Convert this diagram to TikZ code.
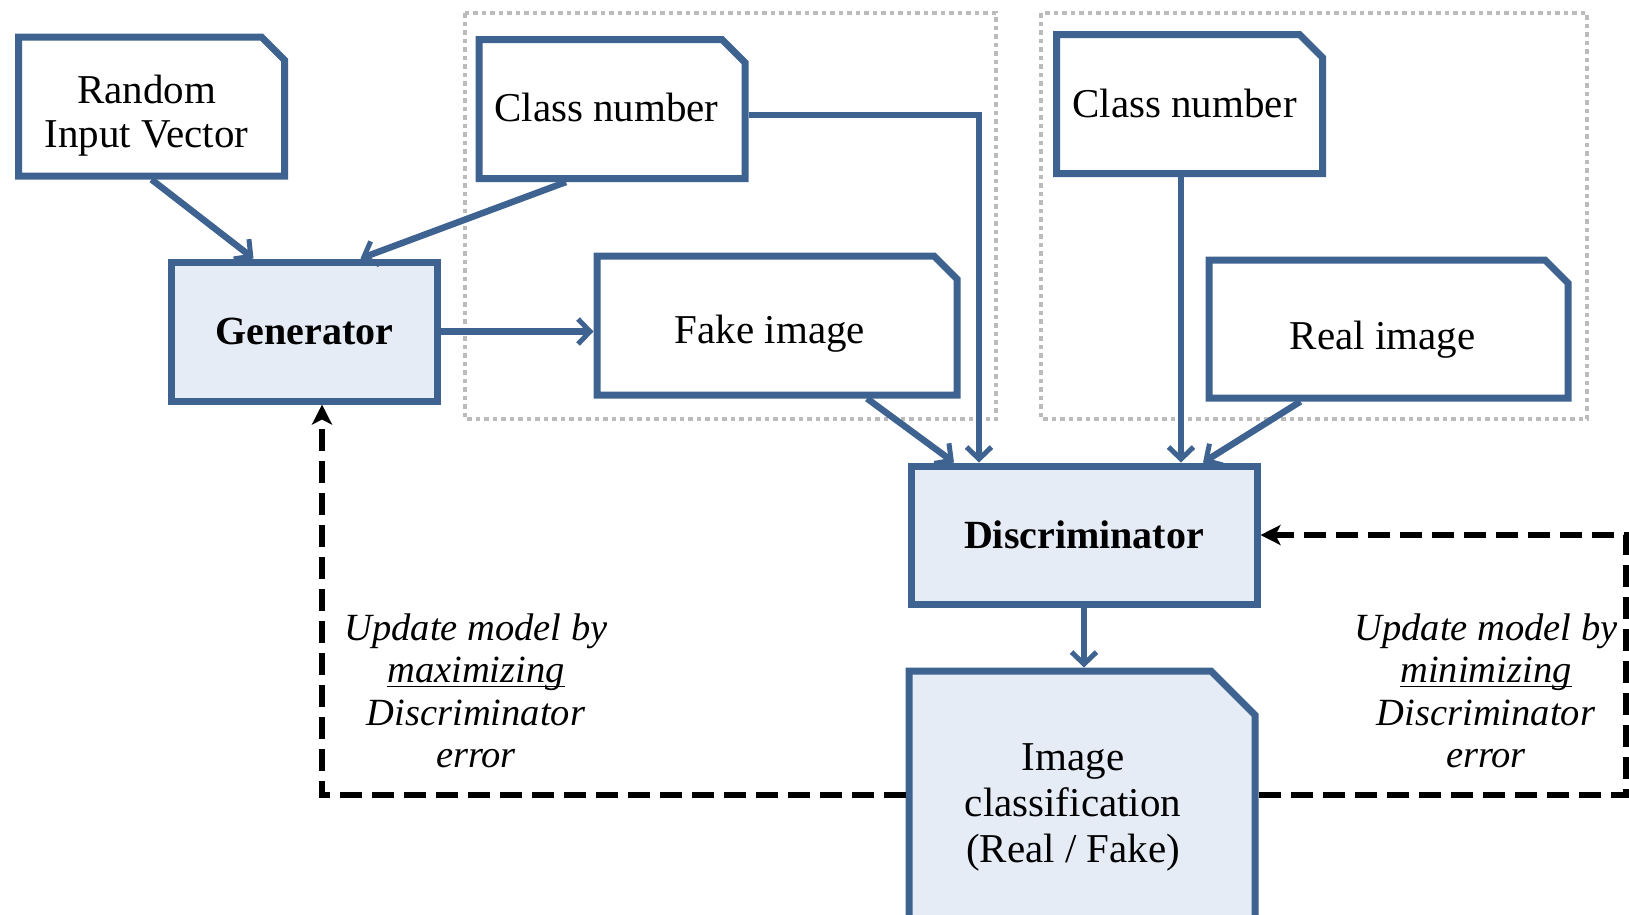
\documentclass[tikz,border=0pt]{standalone}
\usepackage{fontspec}
\setmainfont{Liberation Serif}
\usetikzlibrary{arrows.meta,backgrounds}

\definecolor{boxblue}{HTML}{3F6391}
\definecolor{boxfill}{HTML}{E5ECF6}
\definecolor{framegray}{HTML}{BBBBBB}

% word with an underline sitting just below the baseline
\newsavebox\ulbox
\newcommand\ulword[1]{\sbox\ulbox{#1}\rlap{\rule[-4.5pt]{\wd\ulbox}{1.8pt}}\usebox\ulbox}

% centred lines, moved left by #1 and down by #2 inside their box
\newcommand\placed[3]{\raisebox{-#2}[\height][\depth]{\hspace*{-#1}\begin{tabular}{@{}c@{}}#3\end{tabular}\hspace*{#1}}}

% outline of a box whose top right corner is cut off (#1 node, #2 cut size, #3 fill)
\newcommand\snipframe[3]{%
  \draw[boxframe, fill=#3]
    ([shift={(3.5pt,3.5pt)}]#1.south west) --
    ([shift={(3.5pt,-3.5pt)}]#1.north west) --
    ([shift={(-3.5pt-#2,-3.5pt)}]#1.north east) --
    ([shift={(-3.5pt,-3.5pt-#2)}]#1.north east) --
    ([shift={(-3.5pt,3.5pt)}]#1.south east) -- cycle;}

\begin{document}
\begin{tikzpicture}[x=1pt,y=-1pt,
  txt/.style={inner sep=0pt, align=center, font=\fontsize{41}{44}\selectfont},
  snipbox/.style={txt, outer sep=3.5pt},
  plainbox/.style={txt, draw=boxblue, fill=boxfill, line width=7pt,
    font=\fontsize{40}{44}\selectfont\bfseries},
  small/.style={minimum width=266pt, minimum height=139pt},
  boxframe/.style={draw=boxblue, line width=7pt, line join=miter},
  groupframe/.style={draw=framegray, line width=4.5pt, dash pattern=on 4.5pt off 4pt},
  flow/.style={draw=boxblue, line width=6.5pt,
    -{Straight Barb[length=12pt,width=25pt,line width=5pt]}},
  feedback/.style={draw=black, line width=5.5pt, dash pattern=on 22pt off 10pt,
    -{Stealth[length=20pt,width=20pt,inset=5pt]}},
  note/.style={inner sep=0pt, align=center, font=\fontsize{38.5}{42.5}\selectfont\itshape}
]
\useasboundingbox (0,0) rectangle (1629,914);

% input groups
\draw[groupframe] (465,13) rectangle (996,419);
\draw[groupframe] (1041,13) rectangle (1587,419);

% blocks
\node[snipbox, small] (rnd) at (151.5,106.5) {\placed{5pt}{10pt}{Random\\Input Vector}};
\node[snipbox, small] (c1) at (612,109) {\placed{5.5pt}{4pt}{Class number}};
\node[snipbox, small] (c2) at (1189.5,104) {\placed{5pt}{5pt}{Class number}};
\node[plainbox, small] (gen) at (304.5,331.5) {Generator};
\node[snipbox, minimum width=360pt, minimum height=139pt] (fake) at (777,325.5)
  {\placed{7pt}{9.5pt}{Fake image}};
\node[snipbox, minimum width=359pt, minimum height=138pt] (real) at (1388.5,329)
  {\placed{6pt}{11.5pt}{Real image}};
\node[plainbox, minimum width=346pt, minimum height=138pt] (disc) at (1084,535) {Discriminator};
\node[snipbox, minimum width=346pt, minimum height=260pt,
  font=\fontsize{41}{46}\selectfont] (imgc) at (1082,801)
  {\placed{9pt}{6pt}{Image\\classification\\(Real / Fake)}};

\begin{scope}[on background layer]
  \clip (0,0) rectangle (1629,914);
  \snipframe{rnd}{23pt}{white}
  \snipframe{c1}{23pt}{white}
  \snipframe{c2}{23pt}{white}
  \snipframe{fake}{23pt}{white}
  \snipframe{real}{23pt}{white}
  \snipframe{imgc}{44pt}{boxfill}
\end{scope}

% data flow
\draw[flow] (rnd.south) -- ([xshift=-51pt]gen.north);
\draw[flow] ([xshift=-46pt]c1.south) -- ([xshift=56pt]gen.north);
\draw[flow] (gen.east) -- (gen.east -| fake.west);
\draw[flow] ([yshift=-6pt]c1.east) -| ([xshift=-105pt]disc.north);
\draw[flow] ([xshift=90pt]fake.south) -- ([xshift=-130pt]disc.north);
\draw[flow] ([xshift=-8.5pt]c2.south) -- ([xshift=97pt]disc.north);
\draw[flow] ([xshift=-88pt]real.south) -- ([xshift=119pt]disc.north);
\draw[flow] (disc.south) -- (disc.south |- imgc.north);

% training feedback
\coordinate (fbR) at (1626,0);
\draw[feedback] ([yshift=6pt]imgc.west) -| ([xshift=17.5pt]gen.south);
\draw[feedback] ([yshift=6pt]imgc.east) -| (fbR |- disc.east) -- (disc.east);

\node[note] (lnote) at (476,691) {Update model by\\\ulword{maximizing}\\Discriminator\\error};
\node[note] (rnote) at (1486,691) {Update model by\\\ulword{minimizing}\\Discriminator\\error};
\end{tikzpicture}
\end{document}
